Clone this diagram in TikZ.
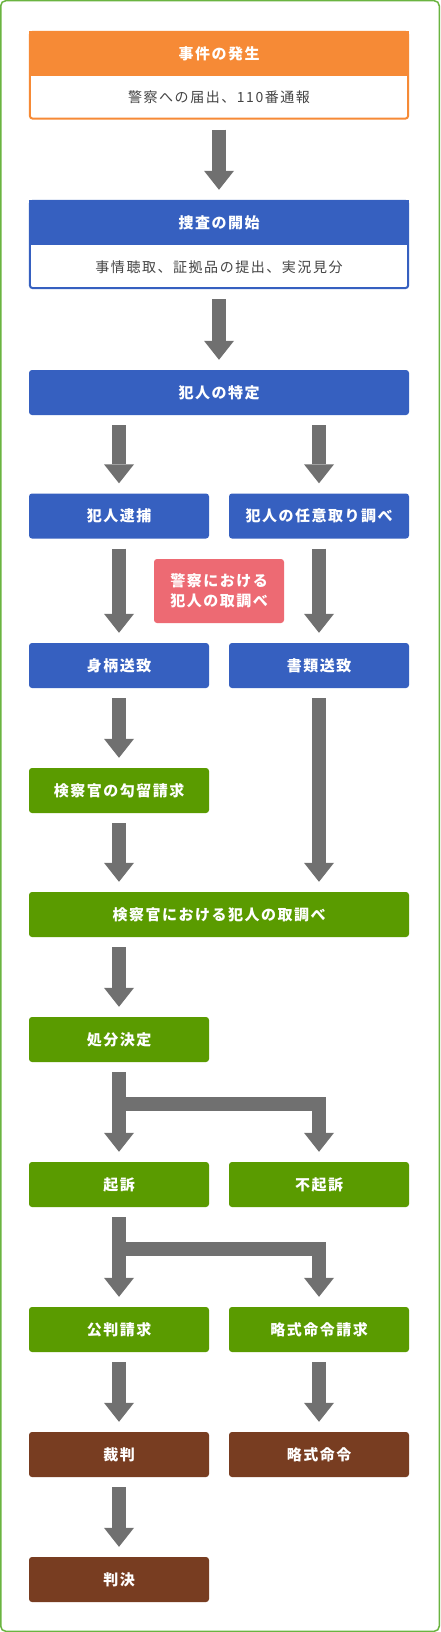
\documentclass[tikz,border=0pt]{standalone}
\usepackage{fontspec}
\setmainfont{Noto Sans CJK JP}
\newfontfamily\jphead[LetterSpace=10]{Noto Sans CJK JP}
\newfontfamily\jpsub[LetterSpace=11]{Noto Sans CJK JP}
\usepackage{tikz}
\usetikzlibrary{positioning}
\usetikzlibrary{fit}
\usetikzlibrary{arrows.meta}

\definecolor{flowOrange}{RGB}{246,138,54}
\definecolor{flowBlue}{RGB}{54,96,192}
\definecolor{flowPink}{RGB}{237,106,115}
\definecolor{flowGreen}{RGB}{90,155,0}
\definecolor{flowBrown}{RGB}{120,61,33}
\definecolor{arrowGray}{RGB}{112,112,112}
\definecolor{subGray}{RGB}{68,68,68}
\definecolor{frameGreen}{RGB}{106,180,64}

\begin{document}
\begin{tikzpicture}[x=1pt,y=1pt,
  box/.style={minimum width=180pt, minimum height=45pt, inner sep=0pt, text=white,
    font=\jphead\bfseries\fontsize{15}{20}\selectfont, rounded corners=3pt},
  widebox/.style={box, minimum width=380pt},
  subbox/.style={minimum width=380pt, minimum height=44pt, inner sep=0pt, text=subGray,
    font=\jpsub\fontsize{14}{16}\selectfont},
  fatarrow/.style={draw=arrowGray, line width=14pt,
    -{Triangle[width=30pt,length=19pt,line width=0pt]}, shorten <=10pt, shorten >=10pt}]
  \useasboundingbox (0,0) rectangle (440,-1632);
  \fill[white] (0,0) rectangle (440,-1632);
  \draw[frameGreen, line width=1.5pt, rounded corners=5pt] (0.75,-0.75) rectangle (439.25,-1631.25);

  % top two boxes with a sub line
  \node[widebox, fill=flowOrange, sharp corners] (hassei) at (219,-53.5) {事件の発生};
  \node[subbox] (hasseiSub) at (219,-97.5) {警察への届出、110番通報};
  \node[fit=(hassei)(hasseiSub), draw=flowOrange, line width=2pt, rounded corners=3pt, inner sep=-1pt] (hasseiFrame) {};
  \node[widebox, fill=flowBlue, sharp corners] (sousa) at (219,-222.5) {捜査の開始};
  \node[subbox, minimum height=44pt] (sousaSub) at (219,-267) {事情聴取、証拠品の提出、実況見分};
  \node[fit=(sousa)(sousaSub), draw=flowBlue, line width=2pt, rounded corners=3pt, inner sep=-1pt] (sousaFrame) {};

  % police
  \node[widebox, fill=flowBlue] (tokutei) at (219,-392.5) {犯人の特定};
  \node[box, fill=flowBlue] (taiho) at (119,-516) {犯人逮捕};
  \node[box, fill=flowBlue] (nini) at (319,-516) {犯人の任意取り調べ};
  \node[box, fill=flowPink, minimum width=130pt, minimum height=64pt, align=center] (keisatsu) at (219,-591) {警察における\\犯人の取調べ};
  \node[box, fill=flowBlue] (shingara) at (119,-665.5) {身柄送致};
  \node[box, fill=flowBlue] (shorui) at (319,-665.5) {書類送致};

  % prosecutor
  \node[box, fill=flowGreen] (kouryu) at (119,-790.5) {検察官の勾留請求};
  \node[widebox, fill=flowGreen] (kentori) at (219,-914.5) {検察官における犯人の取調べ};
  \node[box, fill=flowGreen] (shobun) at (119,-1039.5) {処分決定};
  \node[box, fill=flowGreen] (kiso) at (119,-1184.5) {起訴};
  \node[box, fill=flowGreen] (fukiso) at (319,-1184.5) {不起訴};
  \node[box, fill=flowGreen] (kouhan) at (119,-1329.5) {公判請求};
  \node[box, fill=flowGreen] (ryakushiki) at (319,-1329.5) {略式命令請求};

  % court
  \node[box, fill=flowBrown] (saiban) at (119,-1454.5) {裁判};
  \node[box, fill=flowBrown] (ryakumei) at (319,-1454.5) {略式命令};
  \node[box, fill=flowBrown] (hanketsu) at (119,-1579.5) {判決};

  \coordinate[below=42pt of shobun.south] (fork1);
  \coordinate[below=42pt of kiso.south] (fork2);

  \draw[fatarrow] (hasseiSub.south) -- (sousa.north);
  \draw[fatarrow] (sousaSub.south) -- (tokutei.north);
  \draw[fatarrow] (tokutei.south -| taiho) -- (taiho.north);
  \draw[fatarrow] (tokutei.south -| nini) -- (nini.north);
  \draw[fatarrow] (taiho.south) -- (shingara.north);
  \draw[fatarrow] (nini.south) -- (shorui.north);
  \draw[fatarrow] (shingara.south) -- (kouryu.north);
  \draw[fatarrow] (kouryu.south) -- (kentori.north -| kouryu);
  \draw[fatarrow] (shorui.south) -- (kentori.north -| shorui);
  \draw[fatarrow] (kentori.south -| shobun) -- (shobun.north);
  \draw[fatarrow] (shobun.south) -- (kiso.north);
  \draw[fatarrow, shorten <=0pt] (fork1) -| (fukiso.north);
  \draw[fatarrow] (kiso.south) -- (kouhan.north);
  \draw[fatarrow, shorten <=0pt] (fork2) -| (ryakushiki.north);
  \draw[fatarrow] (kouhan.south) -- (saiban.north);
  \draw[fatarrow] (ryakushiki.south) -- (ryakumei.north);
  \draw[fatarrow] (saiban.south) -- (hanketsu.north);
\end{tikzpicture}
\end{document}
